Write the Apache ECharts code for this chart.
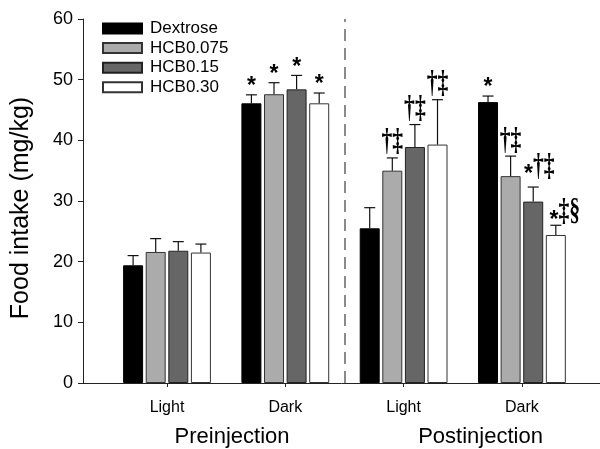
<!DOCTYPE html>
<html><head><meta charset="utf-8">
<script src="https://cdn.jsdelivr.net/npm/echarts@6/dist/echarts.min.js"></script>
<style>html,body{margin:0;padding:0;background:#fff}#c{width:600px;height:449px}</style>
</head><body><div id="c"></div>
<script>
// ---- data ----
const positions = [1, 2, 3, 4];
const tickLabels = ['Light', 'Dark', 'Light', 'Dark'];
const phaseLabels = ['Preinjection', 'Postinjection'];
const phaseCenters = [1.55, 3.65];
const seriesNames = ['Dextrose', 'HCB0.075', 'HCB0.15', 'HCB0.30'];
const dextrose = [19.4, 46.1, 25.5, 46.3];
const hcb0075 = [21.6, 47.6, 35.0, 34.1];
const hcb015 = [21.8, 48.4, 38.9, 29.9];
const hcb030 = [21.5, 46.1, 39.3, 24.4];
const dextroseSem = [1.6, 1.4, 3.4, 1.0];
const hcb0075Sem = [2.2, 1.9, 2.1, 3.3];
const hcb015Sem = [1.5, 2.3, 3.7, 2.4];
const hcb030Sem = [1.4, 1.7, 7.4, 1.6];
const dextroseMarks = ['', '*', '', '*'];
const hcb0075Marks = ['', '*', '†‡', '†‡'];
const hcb015Marks = ['', '*', '†‡', '*†‡'];
const hcb030Marks = ['', '*', '†‡', '*‡§'];
const dividerAt = 2.5;

// ---- styling ----
const values = [dextrose, hcb0075, hcb015, hcb030];
const sems = [dextroseSem, hcb0075Sem, hcb015Sem, hcb030Sem];
const marks = [dextroseMarks, hcb0075Marks, hcb015Marks, hcb030Marks];
const fills = ['#000000', '#ababab', '#666666', '#ffffff'];
const borders = ['#000000', '#333333', '#222222', '#333333'];
const BAR_W = 20, GAP = 2.6, SLOT = BAR_W + GAP;
// per-mark nudge [dx, dy] in px
const markNudge = [[[0,0],[0,0],[0,0],[0,0]],[[0,0],[0,0],[0,0],[0,0]],[[0,0],[0,0],[0,0],[6,-5]],[[0,0],[0,0],[0,0],[9,2]]];
const FONT = '"Liberation Sans", Arial, sans-serif';
const STAR_FONT = 'bold 23px "Liberation Sans"';
const DAG_FONT = 'bold 24px "Liberation Serif"';
const DAG_SX = 0.9, DAG_SY = 1.3;

const mctx = document.createElement('canvas').getContext('2d');
function measure(t, f) { mctx.font = f; return mctx.measureText(t).width; }

function markElements(m, cx, errY, nudge) {
  const hasStar = m[0] === '*';
  const dag = hasStar ? m.slice(1) : m;
  const els = [];
  const ws = hasStar ? measure('*', STAR_FONT) : 0;
  const wd = dag ? measure(dag, DAG_FONT) * DAG_SX : 0;
  let x0 = cx + nudge[0] - (ws + wd) / 2;
  const base = errY + nudge[1];
  if (hasStar) {
    // star centre ~14px above error cap when alone, ~11px above dagger bottom when combined
    const starCenter = dag ? base - 13 : base - 14;
    els.push({ type: 'text', x: x0 + ws / 2, y: starCenter + 17.5,
      style: { text: '*', font: STAR_FONT, fill: '#000', align: 'center', verticalAlign: 'bottom' } });
  }
  if (dag) {
    els.push({ type: 'text', x: x0 + ws, y: base, scaleX: DAG_SX, scaleY: DAG_SY,
      style: { text: dag, font: DAG_FONT, fill: '#000', align: 'left', verticalAlign: 'bottom' } });
  }
  return els;
}

const series = [];
values.forEach((vals, s) => {
  series.push({
    type: 'bar', name: seriesNames[s],
    data: positions.map((p, i) => [p, vals[i]]),
    barWidth: BAR_W, barGap: (GAP / BAR_W * 100) + '%',
    itemStyle: { color: fills[s], borderColor: borders[s], borderWidth: 1 },
    emphasis: { disabled: true }
  });
});
values.forEach((vals, s) => {
  const cs = {
    type: 'custom', name: seriesNames[s] + ' err', silent: true, z: 5,
    data: positions.map((p, i) => [p, vals[i], vals[i] + sems[s][i]]),
    renderItem: function (params, api) {
      const x = api.value(0);
      const top = api.coord([x, api.value(1)]);
      const hi = api.coord([x, api.value(2)]);
      const cx = top[0] + (s - 1.5) * SLOT;
      let children = [
        { type: 'line', shape: { x1: cx, y1: top[1], x2: cx, y2: hi[1] }, style: { stroke: '#111', lineWidth: 1.2 } },
        { type: 'line', shape: { x1: cx - 5.5, y1: hi[1], x2: cx + 5.5, y2: hi[1] }, style: { stroke: '#111', lineWidth: 1.2 } }
      ];
      const m = marks[s][params.dataIndex];
      if (m) children = children.concat(markElements(m, cx, hi[1], markNudge[s][params.dataIndex]));
      return { type: 'group', children };
    }
  };
  if (s === 0) {
    cs.markLine = {
      silent: true, symbol: 'none', label: { show: false },
      lineStyle: { type: [12, 7], color: '#8a8a8a', width: 2 },
      data: [{ xAxis: dividerAt }]
    };
  }
  series.push(cs);
});

const chart = echarts.init(document.getElementById('c'));
chart.setOption({
  animation: false,
  backgroundColor: '#fff',
  textStyle: { fontFamily: FONT },
  grid: { left: 83, right: 0, top: 19, bottom: 66, containLabel: false, outerBoundsMode: 'none' },
  legend: {
    data: seriesNames, orient: 'vertical', left: 102, top: 20, padding: 0,
    itemWidth: 39, itemHeight: 10, itemGap: 2.6, icon: 'rect',
    textStyle: { fontSize: 17, color: '#000', fontFamily: FONT, padding: [0, 0, 0, 3] }
  },
  xAxis: {
    type: 'value', min: 0.29, max: 4.66,
    splitLine: { show: false },
    axisLine: { show: true, lineStyle: { color: '#222', width: 1 } },
    axisTick: { show: true, customValues: positions, length: 4, lineStyle: { color: '#222' } },
    axisLabel: { customValues: positions, fontSize: 16, color: '#000', margin: 17,
      formatter: v => tickLabels[positions.indexOf(v)] }
  },
  yAxis: {
    type: 'value', min: 0, max: 60, interval: 10,
    name: 'Food intake (mg/kg)', nameLocation: 'middle', nameGap: 49,
    nameTextStyle: { fontSize: 25, color: '#000', fontFamily: FONT, padding: [0, 14, 0, 0] },
    splitLine: { show: false },
    axisLine: { show: true, lineStyle: { color: '#222', width: 1 } },
    axisTick: { show: true, length: 5, lineStyle: { color: '#222' } },
    axisLabel: { fontSize: 18, color: '#000', margin: 10 }
  },
  series: series
});

// phase titles placed through the x scale
const gy = 437;
chart.setOption({
  graphic: phaseLabels.map((t, i) => ({
    type: 'text', silent: true,
    x: chart.convertToPixel({ xAxisIndex: 0 }, phaseCenters[i]), y: gy,
    style: { text: t, fontSize: 22, fontFamily: FONT, fill: '#000', align: 'center', verticalAlign: 'middle' }
  }))
});
</script></body></html>
